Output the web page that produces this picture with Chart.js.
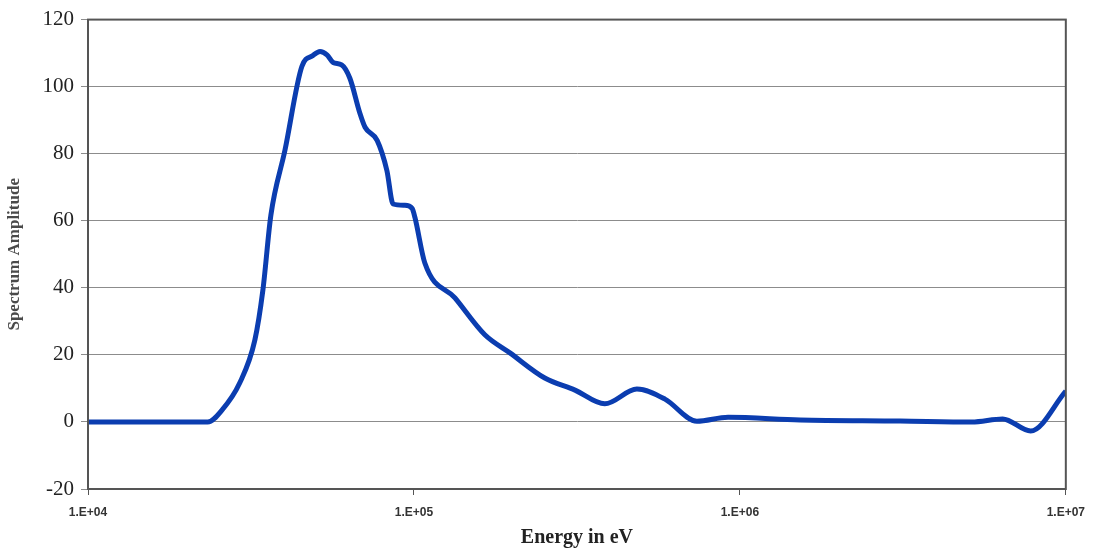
<!DOCTYPE html>
<html>
<head>
<meta charset="utf-8">
<script src="https://cdn.jsdelivr.net/npm/chart.js@4/dist/chart.umd.min.js"></script>
<style>
  html, body { margin: 0; padding: 0; background: #fff; }
  #wrap { width: 1095px; height: 554px; }
</style>
</head>
<body>
<div id="wrap"><canvas id="myChart" width="1095" height="554"></canvas></div>
<script>
// energy in eV
var energy = [1e4, 2.33e4, 2.58e4, 2.92e4, 3.25e4, 3.44e4, 3.64e4, 4.02e4, 4.53e4, 4.9e4,
    5.15e4, 5.41e4, 5.65e4, 6.0e4, 6.36e4, 6.83e4, 7.08e4, 7.71e4, 8.26e4, 8.63e4,
    9.37e4, 9.87e4, 1.007e5, 1.08e5, 1.336e5, 1.65e5, 1.97e5, 2.52e5, 3.12e5, 3.85e5,
    4.83e5, 5.89e5, 7.38e5, 9.2e5, 1.53e6, 3.1e6, 5.15e6, 6.4e6, 7.8e6, 1e7];
var amplitude = [0, 0, 3.6, 11.6, 24.4, 39.3, 61.7, 81, 106, 109.3,
    110.5, 109.5, 107.2, 106.5, 102.5, 92, 87.9, 84, 75, 65,
    64.6, 63.7, 61, 47.4, 37, 26, 20.6, 13.1, 9.5, 5.4,
    9.8, 6.8, 0.2, 1.4, 0.6, 0.3, 0, 0.9, -2.7, 9.2];
var xTicks = [1e4, 1e5, 1e6, 1e7];

function sci_label(v) {
    var exp = Math.round(Math.log10(v));
    var e = (exp < 10 ? '0' : '') + exp;
    return '1.E+' + e;
}

var frame = {
    id: 'frame',
    afterDraw: function(chart) {
        var a = chart.chartArea, ctx = chart.ctx;
        ctx.save();
        ctx.strokeStyle = '#555';
        ctx.lineWidth = 2;
        ctx.strokeRect(a.left, a.top, a.right - a.left, a.bottom - a.top);
        ctx.restore();
    }
};

var ctx = document.getElementById('myChart').getContext('2d');
globalThis.chart = new Chart(ctx, {
    type: 'line',
    data: {
        datasets: [{
            label: 'Spectrum',
            data: energy.map(function(e, i) { return {x: e, y: amplitude[i]}; }),
            borderColor: '#0b3db0',
            borderWidth: 5,
            pointRadius: 0,
            cubicInterpolationMode: 'monotone',
            fill: false
        }]
    },
    plugins: [frame],
    options: {
        responsive: false,
        animation: false,
        layout: { padding: { left: 0, right: 29, top: 19, bottom: 0 } },
        plugins: { legend: { display: false }, tooltip: { enabled: false } },
        scales: {
            x: {
                type: 'logarithmic',
                min: 1e4,
                max: 1e7,
                afterBuildTicks: function(s) { s.ticks = xTicks.map(function(v) { return {value: v}; }); },
                afterFit: function(s) { s.height = 65; },
                ticks: {
                    callback: function(v) { return sci_label(v); },
                    font: { family: 'Liberation Sans', size: 12, weight: 'bold' },
                    color: '#333',
                    maxRotation: 0,
                    autoSkip: false,
                    padding: 10
                },
                grid: { drawOnChartArea: false, tickLength: 6, color: '#555' },
                border: { color: '#555', width: 2 },
                title: {
                    display: true,
                    text: 'Energy in eV',
                    font: { family: 'Liberation Serif', size: 20, weight: 'bold' },
                    color: '#222',
                    padding: { top: 14 }
                }
            },
            y: {
                min: -20,
                max: 120,
                afterFit: function(s) { s.width = 88; },
                ticks: {
                    stepSize: 20,
                    font: { family: 'Liberation Serif', size: 21 },
                    color: '#222',
                    padding: 7
                },
                grid: { color: '#8c8c8c', lineWidth: 1, tickLength: 7 },
                border: { color: '#555', width: 2 },
                title: {
                    display: true,
                    text: 'Spectrum Amplitude',
                    font: { family: 'Liberation Serif', size: 17, weight: 'bold' },
                    color: '#4a4a4a',
                    padding: { bottom: 8 }
                }
            }
        }
    }
});
</script>
</body>
</html>
